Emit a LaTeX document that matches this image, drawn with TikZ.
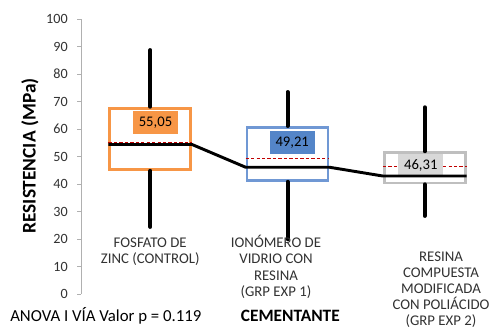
\documentclass[tikz,border=0pt]{standalone}
\usepackage{fontspec}
\setmainfont{Carlito}
\usetikzlibrary{positioning}

\definecolor{zincorange}{RGB}{247,150,70}
\definecolor{ionoline}{RGB}{112,152,212}
\definecolor{ionofill}{RGB}{84,133,200}
\definecolor{resinline}{RGB}{191,191,191}
\definecolor{resinfill}{RGB}{216,216,216}
\definecolor{meanred}{RGB}{192,0,0}
\definecolor{axisgray}{RGB}{176,176,176}
\definecolor{ticktext}{RGB}{50,50,50}

\begin{document}
\begin{tikzpicture}[x=0.75pt,y=2.0625pt]
\tikzset{box/.style = {draw,line width=2.1pt,fill=white,minimum width=60.75pt,inner sep=0pt}}
\tikzset{whisker/.style = {line width=3pt,line cap=round}}
\tikzset{mean/.style = {draw=meanred,line width=0.8pt,dash pattern=on 2.5pt off 1.6pt}}
\tikzset{median/.style = {line width=2.2pt}}
\tikzset{value/.style = {minimum width=33.75pt,minimum height=17.6pt,inner sep=0pt,font=\fontsize{11}{13}\selectfont}}
\tikzset{tick/.style = {anchor=east,inner sep=0pt,text=ticktext,font=\fontsize{10.6}{12}\selectfont}}
\tikzset{cat/.style = {anchor=north,align=center,inner sep=0pt,text=ticktext,font=\fontsize{11.1}{12.1}\selectfont}}
\useasboundingbox (0,-13.09) rectangle (492,106.91);
% AXIS
\draw[axisgray,line width=0.75pt] (81,0) -- (81,100);
\foreach \v in {0,10,...,100}{
  \draw[axisgray,line width=0.75pt] (77,\v) -- (81,\v);
  \node[tick] (t\v) at (68,\v) {\v};
}
\node[rotate=90,font=\fontsize{14.5}{16}\bfseries] (ytitle) at (30,50.2) {RESISTENCIA (MPa)};
% BOXES
\node[box,draw=zincorange,minimum height=46pt] (b1) at (150.2,56.45) {};
\node[box,draw=ionoline,minimum height=39.8pt] (b2) at (287.5,50.95) {};
\node[box,draw=resinline,minimum height=22.7pt] (b3) at (424.8,45.9) {};
\coordinate (top1) at (150.2,88.7);
\coordinate (bot1) at (150.2,24.4);
\coordinate (top2) at (287.5,73.45);
\coordinate (bot2) at (287.5,19.9);
\coordinate (top3) at (424.8,67.9);
\coordinate (bot3) at (424.8,28.4);
% MEANS
\draw[mean] (b1.west |- 0,55.05) -- (b1.east |- 0,55.05);
\draw[mean] (b2.west |- 0,49.21) -- (b2.east |- 0,49.21);
\draw[mean] (b3.west |- 0,46.31) -- (b3.east |- 0,46.31);
% WHISKERS
\draw[whisker] (b1.north) -- (top1);
\draw[whisker] (b1.south) -- (bot1);
\draw[whisker] (b2.north) -- (top2);
\draw[whisker] (b2.south) -- (bot2);
\draw[whisker] (b3.north) -- (top3);
\draw[whisker] (b3.south) -- (bot3);
% VALUES
\node[value,fill=zincorange] (m1) at (155.5,62.4) {55,05};
\node[value,fill=ionofill] (m2) at (292.2,55.1) {49,21};
\node[value,fill=resinfill] (m3) at (420.8,46.65) {46,31};
% MEDIANS
\draw[median] (b1.west |- 0,54.36) -- (b1.east |- 0,54.36) -- (b2.west |- 0,46.1)
  -- (b2.east |- 0,46.1) -- (b3.west |- 0,42.9) -- (b3.east |- 0,42.9);
% LABELS
\node[cat] (c1) at (150.2,20.6) {FOSFATO DE\\ZINC (CONTROL)};
\node[cat] (c2) at (276,21.4) {IONÓMERO DE\\VIDRIO CON\\RESINA\\(GRP EXP 1)};
\node[cat] (c3) at (441,15.5) {RESINA\\COMPUESTA\\MODIFICADA\\CON POLIÁCIDO\\(GRP EXP 2)};
\node[anchor=west,inner sep=0pt,font=\fontsize{12.6}{14}\selectfont] (anova) at (10,-8.1) {ANOVA I VÍA Valor p = 0.119};
\node[inner sep=0pt,font=\fontsize{13}{15}\bfseries] (xtitle) at (290.3,-8.05) {CEMENTANTE};
\end{tikzpicture}
\end{document}
